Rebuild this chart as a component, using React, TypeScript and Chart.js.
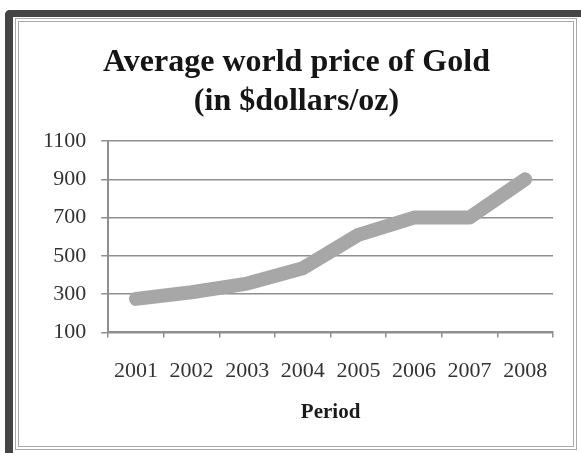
import React, { useEffect, useRef } from "react";
import { Chart, registerables } from "chart.js";

Chart.register(...registerables);

const categories = ["2001", "2002", "2003", "2004", "2005", "2006", "2007", "2008"];
const goldPrices = [275, 310, 355, 435, 610, 700, 700, 900];
const titleLines = ["Average world price of Gold", "(in $dollars/oz)"];
const xTitle = "Period";
const yMin = 100;
const yMax = 1100;
const yStep = 200;

const SERIF = "'Liberation Serif', 'Times New Roman', serif";

export default function App() {
  const ref = useRef<HTMLCanvasElement | null>(null);

  useEffect(() => {
    const canvas = ref.current;
    if (!canvas) return;
    const chart = new Chart(canvas, {
      type: "line",
      data: {
        labels: categories,
        datasets: [
          {
            data: goldPrices,
            borderColor: "#a7a7a7",
            borderWidth: 14,
            borderCapStyle: "round",
            borderJoinStyle: "round",
            pointRadius: 0,
            tension: 0,
            fill: false,
          },
        ],
      },
      options: {
        animation: false,
        responsive: false,
        maintainAspectRatio: false,
        layout: { padding: { left: 40, right: 28, top: 43, bottom: 28 } },
        plugins: {
          legend: { display: false },
          tooltip: { enabled: false },
          title: {
            display: true,
            text: titleLines,
            color: "#151515",
            font: { family: SERIF, size: 32, weight: "bold", lineHeight: 1.22 },
            padding: { top: 0, bottom: 20 },
          },
        },
        scales: {
          x: {
            offset: true,
            grid: {
              offset: true,
              drawOnChartArea: false,
              drawTicks: true,
              tickLength: 5,
              color: "#8f8f8f",
              lineWidth: 1.5,
            },
            border: { display: true, color: "#8f8f8f", width: 2 },
            ticks: {
              color: "#333333",
              padding: 21,
              maxRotation: 0,
              font: { family: SERIF, size: 22 },
            },
            title: {
              display: true,
              text: xTitle,
              color: "#1a1a1a",
              font: { family: SERIF, size: 21, weight: "bold", lineHeight: 1.2 },
              padding: { top: -6, bottom: 0 },
            },
          },
          y: {
            min: yMin,
            max: yMax,
            afterFit: (scale: any) => {
              scale.width = scale.width - 12;
            },
            grid: {
              drawTicks: true,
              tickLength: 7,
              color: "#8f8f8f",
              lineWidth: 1.5,
            },
            border: { display: true, color: "#8f8f8f", width: 2 },
            ticks: {
              stepSize: yStep,
              color: "#333333",
              padding: 15,
              font: { family: SERIF, size: 22 },
              callback: (v: any) => String(v),
            },
          },
        },
      },
    });
    return () => chart.destroy();
  }, []);

  return (
    <div
      style={{
        position: "fixed",
        left: 0,
        top: 0,
        width: 581,
        height: 453,
        background: "#ffffff",
        overflow: "hidden",
      }}
    >
      <div
        style={{
          position: "absolute",
          left: 5,
          top: 10,
          width: 600,
          height: 460,
          borderTop: "7px solid #454545",
          borderLeft: "8px solid #454545",
          borderTopLeftRadius: 5,
          boxSizing: "border-box",
        }}
      />
      <div
        style={{
          position: "absolute",
          left: 15,
          top: 18,
          width: 562,
          height: 432,
          border: "4px double #a9a9a9",
          boxSizing: "border-box",
        }}
      />
      <canvas
        ref={ref}
        width={581}
        height={453}
        style={{ position: "absolute", left: 0, top: 0, width: 581, height: 453 }}
      />
    </div>
  );
}
